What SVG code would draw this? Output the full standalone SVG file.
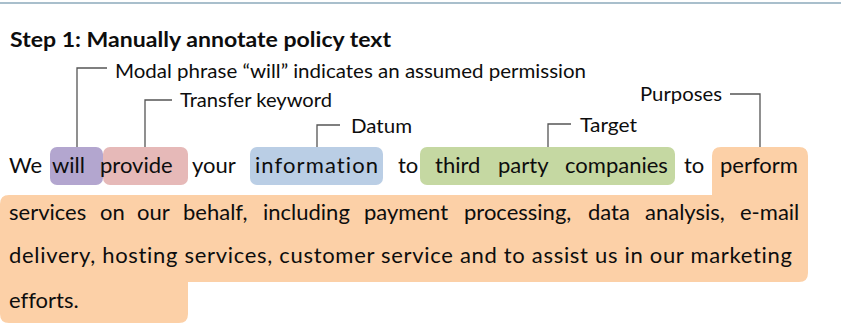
<svg xmlns="http://www.w3.org/2000/svg" width="841" height="328" viewBox="0 0 841 328">
  <style>
    text { font-variant-ligatures: none; }
    .body { font-family: Lato, "Liberation Sans", sans-serif; font-size: 22px; fill: #0d0d0d; }
    .ann { font-family: Lato, "Liberation Sans", sans-serif; font-size: 19px; fill: #0d0d0d; }
    .title { font-family: Lato, "Liberation Sans", sans-serif; font-size: 20px; font-weight: bold; fill: #0d0d0d; }
    .lead { fill: none; stroke: #555; stroke-width: 1.3; }
  </style>
  <rect x="0" y="0" width="841" height="328" fill="#ffffff"/>
  <line x1="0" y1="3" x2="841" y2="3" stroke="#a9bfcc" stroke-width="2"/>

  <g id="title">
    <text class="title" x="10" y="47" textLength="381" lengthAdjust="spacingAndGlyphs">Step 1: Manually annotate policy text</text>
  </g>

  <!-- highlight boxes -->
  <g id="purposes-box">
    <path d="M721,147 H799 Q808,147 808,156 V273 Q808,282 799,282 H188 V314 Q188,323 179,323 H9 Q0,323 0,314 V204 Q0,195 9,195 H712 V156 Q712,147 721,147 Z" fill="#fcd0a7"/>
  </g>
  <g id="transfer-box">
    <rect x="103" y="147" width="85" height="38" rx="7" fill="#e6b9b8"/>
  </g>
  <g id="modal-box">
    <rect x="50" y="147" width="53" height="38" rx="7" fill="#b3a6cf"/>
  </g>
  <g id="datum-box">
    <rect x="250" y="147" width="133" height="38" rx="7" fill="#bacee5"/>
  </g>
  <g id="target-box">
    <rect x="420" y="147" width="255" height="38" rx="7" fill="#c5d8a2"/>
  </g>

  <!-- connectors -->
  <g id="connectors">
    <path class="lead" d="M107,68 H77 V147"/>
    <path class="lead" d="M172,100 H145 V147"/>
    <path class="lead" d="M340,125 H317 V147"/>
    <path class="lead" d="M571,124 H548 V147"/>
    <path class="lead" d="M730,94 H760 V147"/>
  </g>

  <!-- annotation labels -->
  <g id="label-modal">
    <text class="ann" x="115" y="78" textLength="471" lengthAdjust="spacingAndGlyphs">Modal phrase “will” indicates an assumed permission</text>
  </g>
  <g id="label-transfer">
    <text class="ann" x="180" y="107" textLength="152" lengthAdjust="spacingAndGlyphs">Transfer keyword</text>
  </g>
  <g id="label-datum">
    <text class="ann" x="351" y="133" textLength="61" lengthAdjust="spacingAndGlyphs">Datum</text>
  </g>
  <g id="label-target">
    <text class="ann" x="580" y="132" textLength="57" lengthAdjust="spacingAndGlyphs">Target</text>
  </g>
  <g id="label-purposes">
    <text class="ann" x="640" y="101" textLength="82" lengthAdjust="spacingAndGlyphs">Purposes</text>
  </g>

  <!-- policy text -->
  <g id="policy-text">
    <text class="body" y="173">
      <tspan x="9">We</tspan>
      <tspan x="52">will</tspan>
      <tspan x="100">provide</tspan>
      <tspan x="192">your</tspan>
    </text>
    <text class="body" x="255" y="173" textLength="123" lengthAdjust="spacing">information</text>
    <text class="body" y="173">
      <tspan x="398">to</tspan>
      <tspan x="435">third</tspan>
      <tspan x="498">party</tspan>
      <tspan x="565">companies</tspan>
      <tspan x="684">to</tspan>
      <tspan x="720">perform</tspan>
    </text>
    <text class="body" y="220">
      <tspan x="9">services</tspan>
      <tspan x="100">on</tspan>
      <tspan x="137">our</tspan>
      <tspan x="183">behalf,</tspan>
      <tspan x="263">including</tspan>
      <tspan x="364">payment</tspan>
      <tspan x="464">processing,</tspan>
      <tspan x="588">data</tspan>
      <tspan x="645">analysis,</tspan>
      <tspan x="740">e-mail</tspan>
    </text>
    <text class="body" x="9" y="263" textLength="783" lengthAdjust="spacing">delivery, hosting services, customer service and to assist us in our marketing</text>
    <text class="body" x="9" y="308">efforts.</text>
  </g>
</svg>
